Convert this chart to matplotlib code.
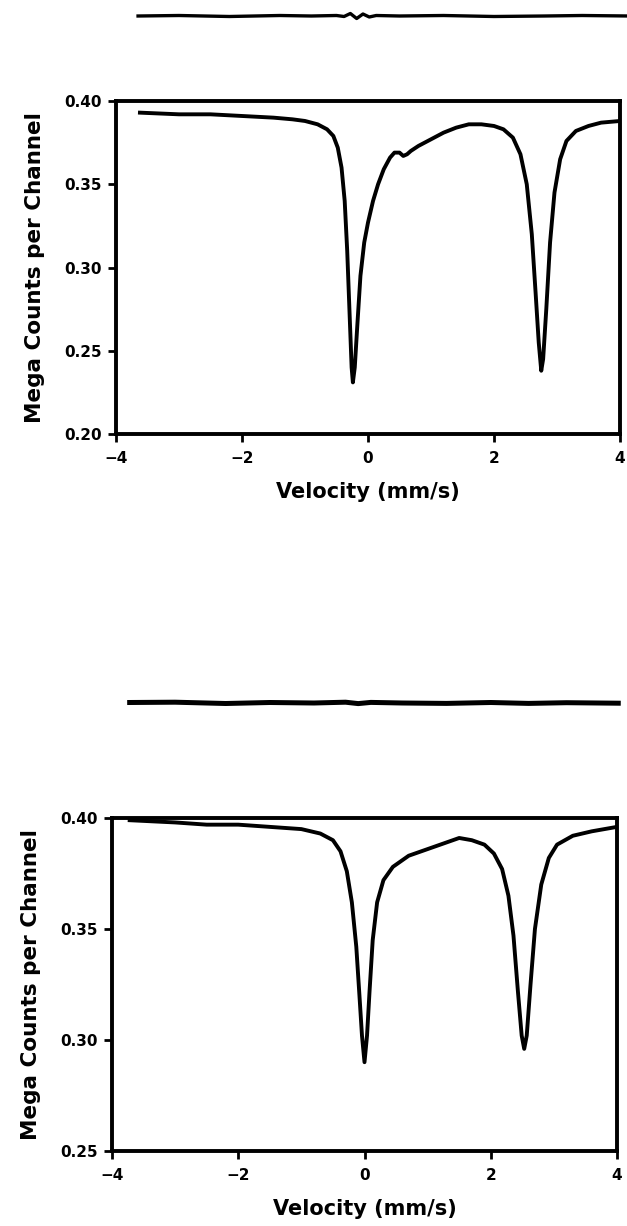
import matplotlib
matplotlib.use("Agg")
import matplotlib.pyplot as plt

# --- data ---
# top spectrum: velocity (mm/s), mega counts per channel
top_v = [-3.62, -3.0, -2.5, -2.0, -1.5, -1.2, -1.0, -0.8, -0.65, -0.55, -0.48,
         -0.42, -0.37, -0.33, -0.29, -0.26, -0.24, -0.21, -0.17, -0.12, -0.06,
         0.0, 0.08, 0.16, 0.25, 0.35, 0.42, 0.5, 0.56, 0.62, 0.68, 0.8, 1.0,
         1.2, 1.4, 1.6, 1.8, 2.0, 2.15, 2.3, 2.42, 2.52, 2.6, 2.66, 2.71,
         2.75, 2.78, 2.83, 2.89, 2.96, 3.05, 3.15, 3.3, 3.5, 3.7, 4.0]
top_c = [0.393, 0.392, 0.392, 0.391, 0.390, 0.389, 0.388, 0.386, 0.383, 0.379, 0.372,
         0.360, 0.340, 0.310, 0.270, 0.240, 0.231, 0.240, 0.265, 0.295, 0.315,
         0.327, 0.340, 0.350, 0.359, 0.366, 0.369, 0.369, 0.367, 0.368, 0.370, 0.373, 0.377,
         0.381, 0.384, 0.386, 0.386, 0.385, 0.383, 0.378, 0.368, 0.350, 0.320, 0.285, 0.255,
         0.238, 0.245, 0.275, 0.315, 0.345, 0.365, 0.376, 0.382, 0.385, 0.387, 0.388]
# residual trace above the top panel (arbitrary units)
top_res_v = [-3.65, -3.0, -2.2, -1.4, -0.9, -0.5, -0.38, -0.28, -0.18, -0.08,
             0.02, 0.13, 0.5, 1.2, 2.0, 2.8, 3.4, 4.15]
top_res = [0.0, 0.05, -0.05, 0.05, 0.0, 0.05, -0.05, 0.25, -0.25, 0.2,
           -0.1, 0.05, 0.0, 0.05, -0.05, 0.0, 0.05, 0.0]

# bottom spectrum
bot_v = [-3.72, -3.0, -2.5, -2.0, -1.5, -1.0, -0.7, -0.5, -0.38, -0.28, -0.2,
         -0.13, -0.08, -0.04, 0.0, 0.04, 0.08, 0.13, 0.2, 0.3, 0.45, 0.7, 1.0,
         1.3, 1.5, 1.7, 1.9, 2.05, 2.18, 2.28, 2.36, 2.43, 2.49, 2.53, 2.57,
         2.63, 2.7, 2.8, 2.92, 3.05, 3.3, 3.6, 4.0]
bot_c = [0.399, 0.398, 0.397, 0.397, 0.396, 0.395, 0.393, 0.390, 0.385, 0.376, 0.362,
         0.342, 0.320, 0.302, 0.290, 0.302, 0.322, 0.345, 0.362, 0.372, 0.378, 0.383, 0.386,
         0.389, 0.391, 0.390, 0.388, 0.384, 0.377, 0.365, 0.347, 0.322, 0.302, 0.296, 0.302,
         0.325, 0.350, 0.370, 0.382, 0.388, 0.392, 0.394, 0.396]
bot_res_v = [-3.72, -3.0, -2.2, -1.5, -0.8, -0.3, -0.1, 0.1, 0.6, 1.3, 2.0, 2.6, 3.2, 4.02]
bot_res = [0.05, 0.08, -0.05, 0.05, 0.0, 0.08, -0.06, 0.06, 0.0, -0.04, 0.05, -0.04, 0.03, -0.02]

xticks = [-4, -2, 0, 2, 4]
top_yticks = [0.20, 0.25, 0.30, 0.35, 0.40]
bot_yticks = [0.25, 0.30, 0.35, 0.40]

plt.rcParams['font.family'] = ['DejaVu Sans']
plt.rcParams['font.weight'] = 'bold'

W, H = 627, 1226
fig = plt.figure(figsize=(W / 100, H / 100), dpi=100)


def px(l, t, r, b):
    return [l / W, 1 - b / H, (r - l) / W, (b - t) / H]


def style(ax, yticks, ylim):
    ax.set_xlim(-4, 4)
    ax.set_ylim(*ylim)
    ax.set_xticks(xticks)
    ax.set_xticklabels([str(t).replace('-', '\u2212') for t in xticks])
    ax.set_yticks(yticks)
    ax.set_yticklabels([f"{t:.2f}" for t in yticks])
    for s in ax.spines.values():
        s.set_linewidth(2.8)
    ax.tick_params(direction='out', length=6, width=2, labelsize=11)
    ax.tick_params(axis='x', pad=6)
    ax.tick_params(axis='y', pad=4)
    for lab in ax.get_xticklabels() + ax.get_yticklabels():
        lab.set_fontweight('bold')
    ax.set_xlabel('Velocity (mm/s)', fontsize=15, fontweight='bold', labelpad=12)
    ax.set_ylabel('Mega Counts per Channel', fontsize=15.5, fontweight='bold', labelpad=14)


# top panel
ax1 = fig.add_axes(px(116, 101, 620, 434))
ax1.plot(top_v, top_c, color='black', lw=2.8, solid_joinstyle='round')
style(ax1, top_yticks, (0.20, 0.40))

r1 = fig.add_axes(px(116, 6, 620, 26))
r1.plot(top_res_v, top_res, color='black', lw=2.4, clip_on=False)
r1.set_xlim(-4, 4)
r1.set_ylim(-1, 1)
r1.axis('off')

# bottom panel
ax2 = fig.add_axes(px(112, 818, 617, 1151))
ax2.plot(bot_v, bot_c, color='black', lw=2.8, solid_joinstyle='round')
style(ax2, bot_yticks, (0.25, 0.40))

r2 = fig.add_axes(px(112, 693, 617, 713))
r2.plot(bot_res_v, bot_res, color='black', lw=3.6, clip_on=False)
r2.set_xlim(-4, 4)
r2.set_ylim(-1, 1)
r2.axis('off')

fig.savefig('out.png', dpi=100)
